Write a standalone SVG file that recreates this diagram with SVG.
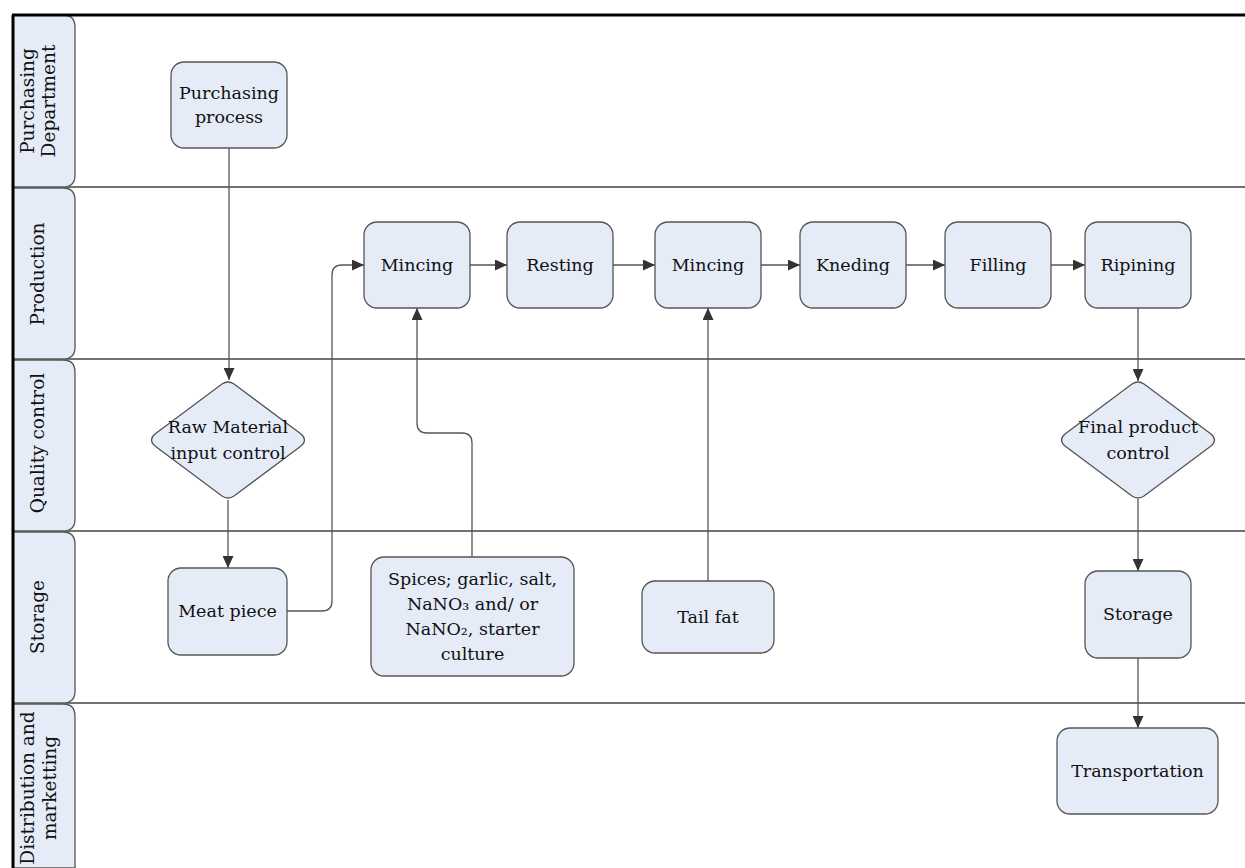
<svg xmlns="http://www.w3.org/2000/svg" width="1245" height="868" viewBox="0 0 1245 868">
<style>
.node{fill:#e5ecf7;stroke:#555;stroke-width:1.3}
.tab{fill:#e5ecf7;stroke:#555;stroke-width:1.3}
.sep{stroke:#444;stroke-width:1.6;fill:none}
.t{font-family:"DejaVu Serif","Liberation Serif",serif;font-size:17.5px;fill:#111;text-anchor:middle}
.lt{font-family:"DejaVu Serif","Liberation Serif",serif;font-size:18.5px;fill:#111;text-anchor:middle}
.c{stroke:#555;stroke-width:1.3;fill:none}
.ca{stroke:#555;stroke-width:1.3;fill:none;marker-end:url(#arr)}
</style>
<defs>
<marker id="arr" markerUnits="userSpaceOnUse" markerWidth="12" markerHeight="11" refX="12" refY="5.5" orient="auto">
<path d="M0,0 L12,5.5 L0,11 z" fill="#333"/>
</marker>
</defs>
<rect x="0" y="0" width="1245" height="868" fill="#fff"/>

<g id="lanes">
<path class="sep" d="M65,187 H1245 M65,359 H1245 M65,531 H1245 M65,703 H1245"/>
<g id="lane-purchasing">
<path class="tab" d="M13,15 H63 Q75,15 75,27 V175 Q75,187 63,187 H13 Z"/>
<text class="lt" transform="translate(34,101) rotate(-90)">Purchasing</text>
<text class="lt" transform="translate(55,101) rotate(-90)">Department</text>
</g>
<g id="lane-production">
<path class="tab" d="M13,188 H63 Q75,188 75,200 V347 Q75,359 63,359 H13 Z"/>
<text class="lt" transform="translate(44,274) rotate(-90)">Production</text>
</g>
<g id="lane-quality">
<path class="tab" d="M13,360 H63 Q75,360 75,372 V519 Q75,531 63,531 H13 Z"/>
<text class="lt" transform="translate(44,443) rotate(-90)">Quality control</text>
</g>
<g id="lane-storage">
<path class="tab" d="M13,532 H63 Q75,532 75,544 V691 Q75,703 63,703 H13 Z"/>
<text class="lt" transform="translate(44,617) rotate(-90)">Storage</text>
</g>
<g id="lane-distribution">
<path class="tab" d="M13,704 H63 Q75,704 75,716 V868 H13 Z"/>
<text class="lt" transform="translate(34,788) rotate(-90)">Distribution and</text>
<text class="lt" transform="translate(56,788) rotate(-90)">marketting</text>
</g>
</g>

<path d="M12,15 H1245 M13,15 V868" stroke="#000" stroke-width="3" fill="none"/>

<g id="connectors">
<path class="ca" d="M229,148 V380"/>
<path class="ca" d="M228,500 V568"/>
<path class="ca" d="M287,611 H322 Q332,611 332,601 V275 Q332,265 342,265 H364"/>
<path class="ca" d="M470,265 H507"/>
<path class="ca" d="M613,265 H655"/>
<path class="ca" d="M761,265 H800"/>
<path class="ca" d="M906,265 H945"/>
<path class="ca" d="M1051,265 H1085"/>
<path class="ca" d="M472,557 V443 Q472,433 462,433 H427 Q417,433 417,423 V308"/>
<path class="ca" d="M708,581 V308"/>
<path class="ca" d="M1138,308 V381"/>
<path class="ca" d="M1138,499 V571"/>
<path class="ca" d="M1138,658 V728"/>
</g>

<g id="n-purchasing">
<rect class="node" x="171" y="62" width="116" height="86" rx="13"/>
<text class="t" x="229" y="99">Purchasing</text>
<text class="t" x="229" y="123">process</text>
</g>
<g id="n-rawmaterial">
<path class="node" d="M222,384 Q228,380 234,384 L301,434 Q308,440 301,446 L234,496 Q228,500 222,496 L155,446 Q148,440 155,434 Z"/>
<text class="t" x="228" y="433">Raw Material</text>
<text class="t" x="228" y="459">input control</text>
</g>
<g id="n-meat">
<rect class="node" x="168" y="568" width="119" height="87" rx="13"/>
<text class="t" x="227.5" y="617">Meat piece</text>
</g>
<g id="n-mincing1">
<rect class="node" x="364" y="222" width="106" height="86" rx="13"/>
<text class="t" x="417" y="271">Mincing</text>
</g>
<g id="n-resting">
<rect class="node" x="507" y="222" width="106" height="86" rx="13"/>
<text class="t" x="560" y="271">Resting</text>
</g>
<g id="n-mincing2">
<rect class="node" x="655" y="222" width="106" height="86" rx="13"/>
<text class="t" x="708" y="271">Mincing</text>
</g>
<g id="n-kneding">
<rect class="node" x="800" y="222" width="106" height="86" rx="13"/>
<text class="t" x="853" y="271">Kneding</text>
</g>
<g id="n-filling">
<rect class="node" x="945" y="222" width="106" height="86" rx="13"/>
<text class="t" x="998" y="271">Filling</text>
</g>
<g id="n-ripining">
<rect class="node" x="1085" y="222" width="106" height="86" rx="13"/>
<text class="t" x="1138" y="271">Ripining</text>
</g>
<g id="n-spices">
<rect class="node" x="371" y="557" width="203" height="119" rx="13"/>
<text class="t" x="472.5" y="585">Spices; garlic, salt,</text>
<text class="t" x="472.5" y="610">NaNO₃ and/ or</text>
<text class="t" x="472.5" y="635">NaNO₂, starter</text>
<text class="t" x="472.5" y="660">culture</text>
</g>
<g id="n-tailfat">
<rect class="node" x="642" y="581" width="132" height="72" rx="13"/>
<text class="t" x="708" y="623">Tail fat</text>
</g>
<g id="n-final">
<path class="node" d="M1132,384 Q1138,380 1144,384 L1211,434 Q1218,440 1211,446 L1144,496 Q1138,500 1132,496 L1065,446 Q1058,440 1065,434 Z"/>
<text class="t" x="1138" y="433">Final product</text>
<text class="t" x="1138" y="459">control</text>
</g>
<g id="n-storage">
<rect class="node" x="1085" y="571" width="106" height="87" rx="13"/>
<text class="t" x="1138" y="620">Storage</text>
</g>
<g id="n-transport">
<rect class="node" x="1057" y="728" width="161" height="86" rx="13"/>
<text class="t" x="1137.5" y="777">Transportation</text>
</g>
</svg>
